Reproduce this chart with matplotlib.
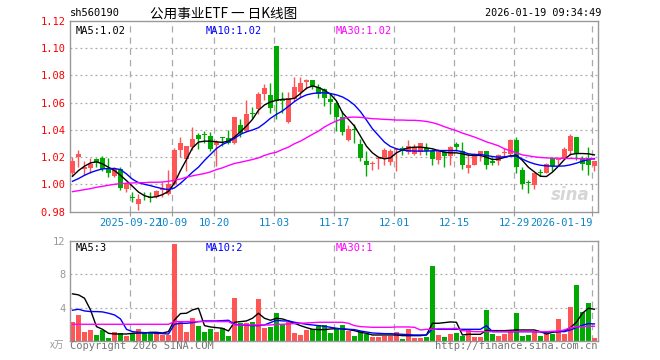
import matplotlib
matplotlib.use('Agg')
import matplotlib.pyplot as plt
import numpy as np

# candle data, 2025-09-08 .. 2026-01-19 (88 trading days)
opens = [1.008, 1.020, 1.0115, 1.0118, 1.0187, 1.0195, 1.0118, 1.0063, 1.011, 0.9962,
         0.9905, 0.9852, 0.9907, 0.9907, 0.9909, 0.9955, 0.9926, 1.000, 1.0253, 1.0187,
         1.0277, 1.0359, 1.0362, 1.0357, 1.0288, 1.035, 1.0337, 1.0305, 1.0435, 1.0391,
         1.0522, 1.0556, 1.0667, 1.0657, 1.1013, 1.0615, 1.046, 1.063, 1.0681, 1.0753,
         1.0768, 1.0718, 1.0699, 1.0625, 1.060, 1.0494, 1.0325, 1.0405, 1.0298, 1.017,
         1.0151, 1.0185, 1.0194, 1.0165, 1.025, 1.0268, 1.0236, 1.0224, 1.0239, 1.0268,
         1.0244, 1.0175, 1.0236, 1.0207, 1.0298, 1.0248, 1.012, 1.0145, 1.0219, 1.0244,
         1.017, 1.017, 1.0229, 1.0219, 1.0325, 1.0108, 1.0017, 0.9998, 1.0086, 1.0084,
         1.019, 1.0175, 1.0194, 1.0244, 1.035, 1.0194, 1.0194, 1.0138]
closes = [1.017, 1.022, 1.0125, 1.0148, 1.0167, 1.0113, 1.0081, 1.011, 0.9974, 1.000,
          0.9902, 0.9892, 0.9904, 0.9902, 0.995, 0.9965, 1.000, 1.0253, 1.0307, 1.0283,
          1.0334, 1.0334, 1.036, 1.0258, 1.031, 1.0337, 1.0305, 1.0497, 1.0379, 1.0519,
          1.052, 1.0667, 1.0711, 1.0558, 1.0613, 1.0613, 1.0637, 1.0718, 1.0748, 1.0763,
          1.0718, 1.0667, 1.0637, 1.0605, 1.0494, 1.0386, 1.0408, 1.0401, 1.019, 1.0145,
          1.0155, 1.0189, 1.0251, 1.0244, 1.026, 1.0248, 1.0285, 1.0273, 1.0303, 1.0244,
          1.0187, 1.0244, 1.0207, 1.0273, 1.0273, 1.0145, 1.0145, 1.0224, 1.0244, 1.0145,
          1.0153, 1.0214, 1.0233, 1.0325, 1.0125, 1.0005, 1.0013, 1.0084, 1.0082, 1.015,
          1.0133, 1.0187, 1.0256, 1.0354, 1.0231, 1.015, 1.0145, 1.017]
highs = [1.020, 1.025, 1.017, 1.0194, 1.0195, 1.021, 1.019, 1.0125, 1.0125, 1.002,
         0.994, 0.9925, 0.994, 0.9945, 0.996, 1.0015, 1.0105, 1.0265, 1.0349, 1.0285,
         1.0418, 1.0375, 1.039, 1.0385, 1.0327, 1.035, 1.0396, 1.0497, 1.0477, 1.062,
         1.0568, 1.0681, 1.0735, 1.0748, 1.1013, 1.0681, 1.0681, 1.079, 1.0786, 1.0773,
         1.0768, 1.0735, 1.0711, 1.066, 1.0613, 1.0538, 1.0435, 1.044, 1.033, 1.0248,
         1.017, 1.0194, 1.0268, 1.0256, 1.0268, 1.028, 1.0329, 1.0293, 1.0303, 1.0305,
         1.0256, 1.0256, 1.0251, 1.028, 1.0312, 1.0312, 1.0219, 1.0231, 1.0248, 1.0248,
         1.0199, 1.0224, 1.0268, 1.033, 1.035, 1.0125, 1.003, 1.0084, 1.0116, 1.0157,
         1.0199, 1.0194, 1.0273, 1.0366, 1.035, 1.0207, 1.0273, 1.017]
lows = [1.006, 1.013, 1.007, 1.0083, 1.0125, 1.010, 1.005, 1.0055, 0.996, 0.9945,
        0.987, 0.981, 0.9885, 0.987, 0.990, 0.991, 0.9918, 0.9995, 1.0197, 1.010,
        1.0253, 1.026, 1.030, 1.0245, 1.0138, 1.0285, 1.0297, 1.0295, 1.035, 1.0386,
        1.0485, 1.0515, 1.0617, 1.0527, 1.0477, 1.0527, 1.0453, 1.0613, 1.0637, 1.0699,
        1.0699, 1.0637, 1.0576, 1.0514, 1.039, 1.0362, 1.0317, 1.0305, 1.0172, 1.006,
        1.0102, 1.0113, 1.0145, 1.0145, 1.010, 1.0214, 1.0219, 1.0214, 1.0214, 1.0212,
        1.0145, 1.015, 1.0125, 1.0145, 1.0248, 1.0113, 1.0084, 1.014, 1.017, 1.0116,
        1.0145, 1.0145, 1.0207, 1.0214, 1.0084, 0.9968, 0.9936, 0.9968, 1.0062, 1.0084,
        1.0101, 1.0133, 1.0189, 1.0214, 1.0182, 1.0108, 1.0071, 1.0101]

ma5 = [1.0059, 1.0101, 1.0133, 1.0157, 1.0165, 1.015, 1.0125, 1.0101, 1.0066, 1.0027,
       0.9985, 0.9943, 0.9916, 0.9904, 0.9909, 0.9924, 0.9948, 1.001, 1.0101, 1.0182,
       1.0268, 1.031, 1.0317, 1.0317, 1.0312, 1.0308, 1.0317, 1.0347, 1.0386, 1.0428,
       1.0477, 1.0544, 1.0583, 1.0605, 1.0617, 1.0625, 1.0625, 1.0632, 1.0667, 1.0706,
       1.0723, 1.0711, 1.0691, 1.0662, 1.0613, 1.0526, 1.0477, 1.0428, 1.0354, 1.028,
       1.0231, 1.0199, 1.0187, 1.0194, 1.0231, 1.0253, 1.0268, 1.0273, 1.0273, 1.0268,
       1.0261, 1.0248, 1.0236, 1.0231, 1.0231, 1.0224, 1.0214, 1.0212, 1.0212, 1.0199,
       1.0182, 1.0185, 1.0197, 1.0209, 1.0214, 1.0175, 1.0125, 1.0091, 1.0059, 1.0057,
       1.0089, 1.0133, 1.0182, 1.0219, 1.0226, 1.0226, 1.0224, 1.0216]
ma10 = [1.0022, 1.0042, 1.0066, 1.0086, 1.0101, 1.0113, 1.0116, 1.0116, 1.0108, 1.0076,
        1.0037, 1.0012, 1.000, 0.999, 0.9978, 0.9968, 0.9961, 0.9973, 1.0007, 1.0047,
        1.0089, 1.0126, 1.0175, 1.0219, 1.0263, 1.0293, 1.0312, 1.0337, 1.0367, 1.0386,
        1.0399, 1.0416, 1.0448, 1.0485, 1.0514, 1.0539, 1.0573, 1.0608, 1.0637, 1.0657,
        1.0667, 1.0672, 1.0672, 1.0667, 1.0657, 1.0642, 1.0617, 1.0583, 1.0534, 1.0472,
        1.0408, 1.0359, 1.031, 1.0278, 1.0261, 1.0251, 1.0246, 1.0244, 1.0244, 1.0244,
        1.0246, 1.0248, 1.0248, 1.0248, 1.0248, 1.0239, 1.0224, 1.0219, 1.0219, 1.0212,
        1.0204, 1.0199, 1.0202, 1.0207, 1.0207, 1.0185, 1.0165, 1.015, 1.014, 1.0135,
        1.0133, 1.0133, 1.0135, 1.0143, 1.0155, 1.017, 1.0182, 1.0189]
ma30 = [0.9946, 0.9953, 0.9961, 0.9968, 0.9978, 0.9985, 0.9993, 1.000, 1.0005, 1.0007,
        1.001, 1.0012, 1.0012, 1.0015, 1.0015, 1.0017, 1.0022, 1.003, 1.0039, 1.0052,
        1.0062, 1.0071, 1.0079, 1.0091, 1.0108, 1.0121, 1.0138, 1.0153, 1.0162, 1.0172,
        1.0182, 1.0194, 1.0212, 1.0226, 1.0236, 1.0256, 1.0273, 1.0298, 1.0317, 1.0342,
        1.0367, 1.0391, 1.0421, 1.0445, 1.0465, 1.0482, 1.0492, 1.0494, 1.0492, 1.0487,
        1.0482, 1.048, 1.0477, 1.0475, 1.0472, 1.0472, 1.047, 1.047, 1.0467, 1.0462,
        1.0453, 1.044, 1.0423, 1.0408, 1.0394, 1.0376, 1.0362, 1.0347, 1.033, 1.0312,
        1.0298, 1.0283, 1.0261, 1.0246, 1.0231, 1.0216, 1.0209, 1.0202, 1.0197, 1.0194,
        1.0192, 1.0192, 1.019, 1.019, 1.019, 1.0187, 1.0187, 1.0185]

volume = [2.28, 3.12, 1.08, 1.32, 0.72, 1.28, 0.36, 1.08, 0.96, 0.64,
          0.88, 1.4, 0.92, 0.92, 1.04, 0.72, 0.72, 11.64, 2.4, 1.08,
          2.72, 1.8, 1.08, 1.44, 1.08, 1.52, 0.6, 5.12, 2.12, 2.2,
          2.28, 5.04, 1.52, 1.68, 3.36, 2.0, 2.24, 0.96, 0.72, 1.32,
          1.4, 1.92, 1.92, 1.0, 1.4, 1.92, 1.2, 0.6, 1.2, 0.88,
          0.48, 0.48, 0.64, 0.56, 1.08, 0.24, 1.44, 0.36, 0.36, 0.52,
          9.0, 0.72, 0.48, 0.84, 1.0, 0.64, 1.44, 0.52, 0.52, 3.72,
          0.88, 0.64, 0.88, 1.12, 3.36, 0.64, 0.72, 1.12, 0.64, 0.88,
          0.88, 2.64, 0.88, 4.12, 6.72, 3.44, 4.56, 0.32]
vma5 = [5.64, 5.52, 5.12, 3.72, 1.72, 1.4, 0.92, 0.84, 0.84, 0.84,
        0.92, 0.96, 0.96, 1.04, 1.04, 0.96, 1.12, 2.52, 3.28, 3.32,
        3.72, 3.92, 1.84, 1.68, 1.6, 1.52, 1.2, 2.24, 2.32, 2.4,
        2.72, 3.32, 2.72, 2.48, 2.72, 2.64, 2.4, 2.12, 1.84, 1.6,
        1.4, 1.36, 1.36, 1.44, 1.48, 1.44, 1.36, 1.24, 1.04, 0.92,
        0.72, 0.72, 0.72, 0.72, 0.72, 0.64, 0.64, 0.64, 0.64, 0.72,
        2.12, 2.12, 2.2, 2.28, 2.24, 0.72, 0.8, 0.8, 0.8, 1.28,
        1.24, 1.24, 1.24, 1.28, 1.32, 1.32, 1.32, 1.32, 1.12, 0.84,
        1.04, 1.12, 1.2, 1.6, 2.24, 3.32, 3.92, 3.8]
vma10 = [3.68, 3.8, 3.6, 3.52, 3.52, 3.48, 3.32, 3.12, 2.64, 1.4,
         1.12, 1.04, 1.0, 0.96, 0.92, 0.88, 0.84, 2.0, 2.12, 2.12,
         2.2, 2.32, 2.4, 2.4, 2.4, 2.44, 2.48, 2.0, 1.92, 1.88,
         1.84, 1.84, 1.92, 2.2, 2.48, 2.4, 2.4, 2.24, 2.12, 2.0,
         1.92, 1.84, 1.76, 1.64, 1.52, 1.44, 1.4, 1.36, 1.2, 1.08,
         0.96, 0.92, 0.88, 0.88, 0.84, 0.8, 0.76, 0.72, 0.72, 0.72,
         1.44, 1.4, 1.4, 1.4, 1.4, 1.4, 1.4, 1.4, 1.4, 1.84,
         1.12, 1.12, 1.12, 1.12, 1.12, 1.12, 1.12, 1.12, 1.08, 1.04,
         1.12, 1.12, 1.12, 1.32, 1.6, 1.88, 2.08, 2.04]
vma30 = [2.0, 2.0, 2.0, 2.0, 2.0, 2.0, 2.0, 2.0, 2.0, 2.0,
         2.0, 2.0, 2.0, 2.0, 2.0, 2.0, 2.0, 2.32, 2.32, 2.32,
         2.32, 2.32, 2.32, 2.32, 2.32, 2.32, 2.32, 1.92, 1.92, 1.92,
         1.92, 1.92, 1.92, 1.92, 2.0, 2.0, 2.04, 2.08, 2.12, 2.16,
         2.2, 2.24, 2.24, 2.24, 2.24, 2.24, 2.12, 1.84, 1.72, 1.68,
         1.64, 1.64, 1.64, 1.64, 1.68, 1.68, 1.68, 1.64, 1.32, 1.4,
         1.4, 1.48, 1.48, 1.48, 1.52, 1.24, 1.2, 1.12, 1.12, 1.12,
         1.12, 1.12, 1.12, 1.12, 1.12, 1.12, 1.12, 1.12, 1.12, 1.12,
         1.16, 1.2, 1.32, 1.6, 1.68, 1.72, 1.76, 1.76]

tick_idx = [10, 17, 24, 34, 44, 54, 64, 74, 87]
tick_labels = ['2025-09-22', '10-09', '10-20', '11-03', '11-17',
               '12-01', '12-15', '12-29', '2026-01-19']
price_ticks = [0.98, 1.00, 1.02, 1.04, 1.06, 1.08, 1.10, 1.12]
vol_ticks = [4, 8, 12]

RED = '#ff5555'
GREEN = '#00aa00'
GRAY = '#999999'
BLUE_TXT = '#0a84c8'
MONO = 'DejaVu Sans Mono'
CJK = ['Noto Sans CJK SC', 'DejaVu Sans']

x = np.arange(len(closes))
o = np.array(opens)
c = np.array(closes)
up = c >= o
colors = [RED if u else GREEN for u in up]

fig = plt.figure(figsize=(6.6, 3.6), dpi=100)
ax1 = fig.add_axes([69.5 / 660, 1 - 211.5 / 360, 528.5 / 660, 190.5 / 360])
ax2 = fig.add_axes([69.5 / 660, 1 - 341 / 360, 528.5 / 660, 100.3 / 360])

for ax in (ax1, ax2):
    ax.set_xlim(-0.5, 87.6)
    for s in ax.spines.values():
        s.set_color(GRAY)
        s.set_linewidth(1)
    for t in tick_idx:
        ax.axvline(t - 0.35, color='#aaaaaa', linestyle=(0, (5, 4)), linewidth=0.9, zorder=0)

# price panel
ax1.set_ylim(0.98, 1.12)
for v in price_ticks[1:-1]:
    ax1.axhline(v, color='#aaaaaa', linestyle=(0, (1.5, 2.5)), linewidth=0.9, zorder=0)
ax1.vlines(x, lows, highs, colors=colors, linewidth=1, zorder=2)
body_bottom = np.minimum(o, c)
body_h = np.maximum(np.abs(c - o), 0.0006)
ax1.bar(x, body_h, bottom=body_bottom, width=0.78, color=colors, linewidth=0, zorder=3)
ax1.plot(x, ma5, color='black', linewidth=1, zorder=4)
ax1.plot(x, ma10, color='blue', linewidth=1, zorder=4)
ax1.plot(x, ma30, color='magenta', linewidth=1, zorder=4)

ax1.set_yticks(price_ticks)
ax1.set_yticklabels([f'{v:.2f}' for v in price_ticks], color='red', fontsize=7.5, family=MONO)
ax1.tick_params(axis='y', length=0, pad=3)
ax1.set_xticks([t - 0.35 for t in tick_idx])
ax1.set_xticklabels(tick_labels, color=BLUE_TXT, fontsize=7.5, family=MONO)
ax1.tick_params(axis='x', length=3, color=GRAY, pad=2)
ax1.get_xticklabels()[-1].set_horizontalalignment('right')
ax1.get_xticklabels()[-1].set_x(87.6)

ax1.text(0.012, 0.975, 'MA5:1.02', transform=ax1.transAxes, ha='left', va='top',
         fontsize=7.5, family=MONO, color='black')
ax1.text(0.258, 0.975, 'MA10:1.02', transform=ax1.transAxes, ha='left', va='top',
         fontsize=7.5, family=MONO, color='blue')
ax1.text(0.504, 0.975, 'MA30:1.02', transform=ax1.transAxes, ha='left', va='top',
         fontsize=7.5, family=MONO, color='magenta')
ax1.text(0.985, 0.04, 'sina', transform=ax1.transAxes, ha='right', va='bottom',
         fontsize=12, style='italic', weight='bold', color='#cccccc', alpha=0.8, zorder=1)

# volume panel
ax2.set_ylim(0, 12)
for v in vol_ticks[:-1]:
    ax2.axhline(v, color='#aaaaaa', linestyle=(0, (1.5, 2.5)), linewidth=0.9, zorder=0)
ax2.bar(x, volume, width=0.78, color=colors, linewidth=0, zorder=2)
ax2.plot(x, vma5, color='black', linewidth=1, zorder=3)
ax2.plot(x, vma10, color='blue', linewidth=1, zorder=3)
ax2.plot(x, vma30, color='magenta', linewidth=1, zorder=3)
ax2.set_yticks(vol_ticks)
ax2.set_yticklabels([str(v) for v in vol_ticks], color=GRAY, fontsize=7.5, family=MONO)
ax2.tick_params(axis='y', length=0, pad=3)
ax2.set_xticks([])
ax2.text(0.012, 0.975, 'MA5:3', transform=ax2.transAxes, ha='left', va='top',
         fontsize=7.5, family=MONO, color='black')
ax2.text(0.258, 0.975, 'MA10:2', transform=ax2.transAxes, ha='left', va='top',
         fontsize=7.5, family=MONO, color='blue')
ax2.text(0.504, 0.975, 'MA30:1', transform=ax2.transAxes, ha='left', va='top',
         fontsize=7.5, family=MONO, color='magenta')

# header and footer
fig.text(70 / 660, 1 - 13.5 / 360, 'sh560190', ha='left', va='center',
         fontsize=7.5, family=MONO, color='black')
fig.text(150 / 660, 1 - 13.5 / 360, '公用事业ETF 一 日K线图', ha='left', va='center',
         fontsize=9.8, family=CJK, color='black')
fig.text(601 / 660, 1 - 13.5 / 360, '2026-01-19 09:34:49', ha='right', va='center',
         fontsize=7.3, family=MONO, color='black')
fig.text(64 / 660, 1 - 345 / 360, 'x万', ha='right', va='center',
         fontsize=7, family=CJK, color=GRAY, style='italic')
fig.text(70 / 660, 1 - 346 / 360, 'Copyright 2026 SINA.COM', ha='left', va='center',
         fontsize=7.5, family=MONO, color='#777777')
fig.text(597 / 660, 1 - 346 / 360, 'http://finance.sina.com.cn', ha='right', va='center',
         fontsize=7.5, family=MONO, color='#777777')

plt.savefig('out.png', dpi=100)
